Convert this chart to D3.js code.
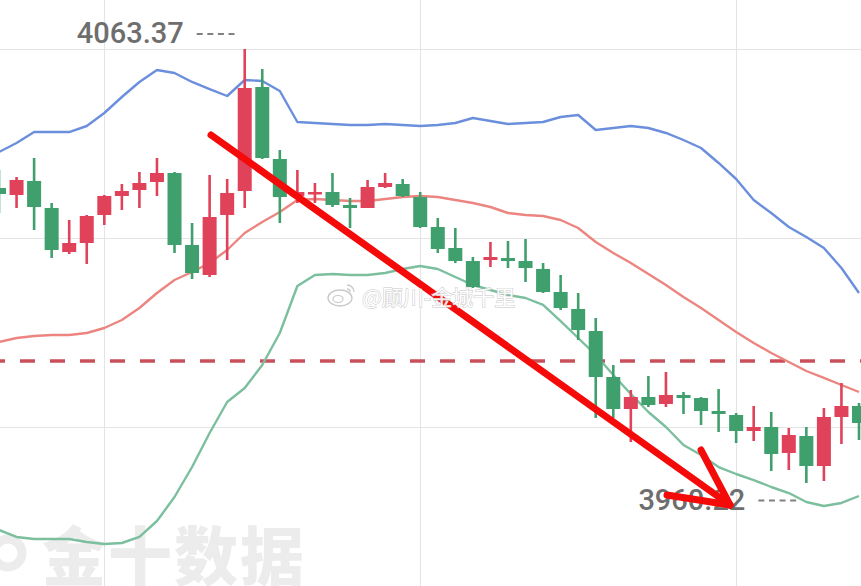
<!DOCTYPE html>
<html>
<head>
<meta charset="utf-8">
<script src="https://cdn.jsdelivr.net/npm/d3@7"></script>
<style>
  html, body { margin: 0; padding: 0; background: #fff; }
  svg { display: block; }
</style>
</head>
<body>
<svg id="chart" width="861" height="586"></svg>
<script>
// candles, oldest first (red = up, green = down)
const opens = [4030.33, 4028.67, 4032.00, 4025.58, 4015.12, 4017.26, 4023.92, 4028.43, 4029.86, 4031.76,
  4033.90, 4016.79, 4009.66, 4023.92, 4029.62, 4054.34, 4037.23, 4028.43, 4029.15, 4029.38,
  4026.29, 4025.58, 4030.57, 4031.28, 4028.19, 4021.06, 4016.07, 4012.98, 4013.22, 4013.70,
  4012.98, 4011.08, 4005.62, 4001.58, 3996.34, 3985.41, 3977.81, 3980.66, 3979.00, 3981.14,
  3980.42, 3977.33, 3976.38, 3972.58, 3973.53, 3967.35, 3971.39, 3964.26, 3975.91, 3978.52]
const highs = [4034.61, 4032.95, 4037.46, 4026.77, 4022.73, 4023.92, 4028.67, 4031.28, 4034.14, 4037.46,
  4034.14, 4022.02, 4033.42, 4032.47, 4063.37, 4058.62, 4039.37, 4034.61, 4031.52, 4033.90,
  4027.96, 4032.24, 4033.90, 4032.47, 4029.38, 4023.20, 4020.83, 4013.93, 4017.50, 4017.74,
  4018.21, 4012.51, 4009.66, 4005.38, 3999.44, 3988.27, 3982.32, 3985.65, 3986.60, 3981.85,
  3980.66, 3982.56, 3976.86, 3978.52, 3977.10, 3973.29, 3973.53, 3978.05, 3983.99, 3979.24]
const lows = [4024.39, 4025.58, 4020.35, 4013.70, 4014.65, 4012.27, 4021.54, 4025.11, 4025.58, 4028.43,
  4014.89, 4008.71, 4009.18, 4013.22, 4025.58, 4037.22, 4022.02, 4026.77, 4026.77, 4025.82,
  4020.83, 4025.58, 4030.33, 4028.19, 4020.83, 4014.89, 4012.51, 4006.57, 4011.56, 4011.32,
  4007.99, 4005.38, 4001.34, 3994.21, 3975.67, 3975.67, 3969.97, 3978.28, 3978.28, 3976.62,
  3974.01, 3972.34, 3969.73, 3970.20, 3963.07, 3963.31, 3960.22, 3960.70, 3969.49, 3970.44]
const closes = [4028.91, 4032.24, 4025.82, 4015.60, 4017.26, 4023.68, 4028.43, 4029.62, 4031.52, 4033.90,
  4016.79, 4010.13, 4023.44, 4029.15, 4054.10, 4037.46, 4028.19, 4029.38, 4029.38, 4026.29,
  4025.58, 4030.57, 4031.52, 4028.43, 4021.06, 4015.84, 4012.98, 4006.80, 4013.93, 4012.98,
  4011.32, 4005.62, 4001.81, 3996.58, 3985.41, 3977.81, 3980.66, 3978.76, 3981.14, 3980.42,
  3977.33, 3976.62, 3972.58, 3973.53, 3967.11, 3971.63, 3964.26, 3975.91, 3978.52, 3974.48]

// bollinger bands
const upperBand = [4038.89, 4041.03, 4043.64, 4043.64, 4043.64, 4045.07, 4048.16, 4051.96, 4055.53, 4058.38,
  4057.67, 4055.53, 4053.86, 4052.20, 4056.00, 4055.76, 4053.39, 4046.02, 4045.78, 4045.54,
  4045.31, 4045.31, 4045.54, 4045.31, 4045.07, 4045.31, 4045.78, 4046.97, 4046.26, 4045.54,
  4045.78, 4046.02, 4047.21, 4047.68, 4044.12, 4044.59, 4045.07, 4044.59, 4043.41, 4041.74,
  4039.84, 4036.28, 4032.47, 4027.48, 4024.39, 4021.06, 4018.69, 4016.07, 4011.32, 4005.38]
const midBand = [3993.73, 3994.68, 3995.16, 3995.40, 3995.40, 3995.87, 3997.06, 3998.96, 4001.81, 4005.38,
  4008.47, 4010.37, 4012.51, 4015.60, 4019.64, 4022.25, 4024.63, 4027.48, 4027.72, 4027.48,
  4027.24, 4027.24, 4027.72, 4028.19, 4028.43, 4028.19, 4027.48, 4026.77, 4025.82, 4024.39,
  4023.92, 4023.68, 4022.73, 4020.83, 4017.50, 4014.89, 4012.51, 4009.89, 4007.28, 4004.43,
  4001.81, 3998.96, 3996.11, 3993.50, 3991.12, 3988.98, 3986.84, 3985.18, 3983.51, 3981.85]
const lowerBand = [3949.05, 3947.39, 3946.91, 3946.91, 3946.91, 3946.20, 3945.72, 3945.96, 3947.39, 3951.19,
  3956.89, 3964.02, 3972.10, 3979.47, 3982.80, 3988.27, 3995.87, 4007.04, 4009.66, 4009.89,
  4009.66, 4009.66, 4010.13, 4011.08, 4011.80, 4011.08, 4009.18, 4007.28, 4006.09, 4004.90,
  4004.19, 4002.53, 3998.72, 3994.68, 3990.64, 3985.89, 3981.37, 3977.10, 3973.53, 3969.25,
  3966.88, 3964.02, 3962.36, 3960.93, 3959.27, 3957.84, 3955.71, 3954.75, 3955.47, 3957.13]

const gridPrices = [4063.37, 4018.45, 3973.53]
const gridIndex = [6, 24, 42]
const refPrice = 3989.22

// hand drawn arrow, in (index, price)
const arrowShaft = [[12.08, 4042.93], [41.65, 3954.99]]
const arrowWingA = [[40.0, 3968.06], [41.65, 3954.99]]
const arrowWingB = [[38.06, 3957.37], [41.65, 3954.99]]

const n = opens.length
const W = 861, H = 586

const x = d3.scaleLinear().domain([0, n - 1]).range([-1, 859])
const y = d3.scaleLinear().domain([3960.22, 4063.37]).range([483, 49])

const svg = d3.select('#chart')

const RED = '#e0425a', GREEN = '#3f9f6d'

// grid
svg.append('g').selectAll('line.h')
  .data(gridPrices)
  .enter()
  .append('line')
  .attr('x1', 0).attr('x2', W)
  .attr('y1', d => Math.round(y(d)) + 0.5).attr('y2', d => Math.round(y(d)) + 0.5)
  .attr('stroke', '#e4e4e4').attr('stroke-width', 1)

svg.append('g').selectAll('line.v')
  .data(gridIndex)
  .enter()
  .append('line')
  .attr('x1', d => Math.round(x(d)) + 0.5).attr('x2', d => Math.round(x(d)) + 0.5)
  .attr('y1', 0).attr('y2', H)
  .attr('stroke', '#e4e4e4').attr('stroke-width', 1)

// watermark 金十数据
const wm = svg.append('g').attr('fill', '#ececec')
wm.append('text')
  .attr('x', 42).attr('y', 580)
  .attr('font-family', 'Noto Sans CJK SC')
  .attr('font-weight', 900)
  .attr('font-size', 64)
  .attr('letter-spacing', 2)
  .text('金十数据')
wm.append('circle')
  .attr('cx', 8).attr('cy', 553).attr('r', 14)
  .attr('fill', 'none').attr('stroke', '#ececec').attr('stroke-width', 9)

// reference line
svg.append('line')
  .attr('x1', 0).attr('x2', W)
  .attr('y1', y(refPrice)).attr('y2', y(refPrice))
  .attr('stroke', '#c9505a').attr('stroke-width', 3.5)
  .attr('stroke-dasharray', '15,15')
  .attr('stroke-dashoffset', 10)

// bands
const line = d3.line().x((d, i) => x(i)).y(d => y(d))
const bands = [
  {vals: lowerBand, color: '#7bbf9e'},
  {vals: midBand, color: '#ec8580'},
  {vals: upperBand, color: '#6b8fdc'}
]
svg.append('g').selectAll('path')
  .data(bands)
  .enter()
  .append('path')
  .attr('d', d => line(d.vals))
  .attr('fill', 'none')
  .attr('stroke', d => d.color)
  .attr('stroke-width', 2.4)
  .attr('stroke-linejoin', 'round')

// candles
const candles = d3.range(n).map(i => ({i: i, o: opens[i], h: highs[i], l: lows[i], c: closes[i]}))
const bodyW = 14

const cg = svg.append('g').selectAll('g')
  .data(candles)
  .enter()
  .append('g')
  .attr('fill', d => d.c >= d.o ? RED : GREEN)
  .attr('stroke', d => d.c >= d.o ? RED : GREEN)

cg.append('line')
  .attr('x1', d => x(d.i)).attr('x2', d => x(d.i))
  .attr('y1', d => y(d.h)).attr('y2', d => y(d.l))
  .attr('stroke-width', 2.6)

cg.append('rect')
  .attr('x', d => x(d.i) - bodyW / 2)
  .attr('width', bodyW)
  .attr('y', d => y(Math.max(d.o, d.c)))
  .attr('height', d => Math.max(2.5, y(Math.min(d.o, d.c)) - y(Math.max(d.o, d.c))))
  .attr('stroke', 'none')

// max / min labels
const fmt = d3.format('.2f')
const hiIdx = d3.maxIndex(highs)
const loIdx = d3.minIndex(lows)
const extremes = [
  {i: hiIdx, v: highs[hiIdx], dy: -16},
  {i: loIdx, v: lows[loIdx], dy: 16.5}
]
const lab = svg.append('g').selectAll('g')
  .data(extremes)
  .enter()
  .append('g')
lab.append('text')
  .attr('x', d => x(d.i) - 61)
  .attr('y', d => y(d.v) + d.dy)
  .attr('dy', '0.35em')
  .attr('text-anchor', 'end')
  .attr('font-family', 'Roboto')
  .attr('font-weight', 500)
  .attr('font-size', 29)
  .attr('fill', '#6e6e6e')
  .text(d => fmt(d.v))
lab.append('line')
  .attr('x1', d => x(d.i) - 48).attr('x2', d => x(d.i) - 8)
  .attr('y1', d => y(d.v) + d.dy + 1).attr('y2', d => y(d.v) + d.dy + 1)
  .attr('stroke', '#808080').attr('stroke-width', 1.8)
  .attr('stroke-dasharray', '6,4.6')

// red arrow
const ag = svg.append('g')
  .attr('stroke', '#f50a0a')
  .attr('stroke-width', 7)
  .attr('stroke-linecap', 'round')
;[arrowShaft, arrowWingA, arrowWingB].forEach(function(seg){
  ag.append('line')
    .attr('x1', x(seg[0][0])).attr('y1', y(seg[0][1]))
    .attr('x2', x(seg[1][0])).attr('y2', y(seg[1][1]))
})

// weibo watermark
const wb = svg.append('g').attr('opacity', 0.9)
wb.append('ellipse')
  .attr('cx', 340).attr('cy', 298).attr('rx', 12).attr('ry', 8)
  .attr('fill', '#fff').attr('stroke', '#c4c4c4').attr('stroke-width', 1.3)
wb.append('ellipse')
  .attr('cx', 338).attr('cy', 299).attr('rx', 5).attr('ry', 3.5)
  .attr('fill', 'none').attr('stroke', '#c4c4c4').attr('stroke-width', 1.2)
wb.append('path')
  .attr('d', 'M347,285 a7,7 0 0 1 7,7 M347,289 a3,3 0 0 1 3,3')
  .attr('fill', 'none').attr('stroke', '#c4c4c4').attr('stroke-width', 1.3)
wb.append('text')
  .attr('x', 362).attr('y', 305)
  .attr('font-family', 'Noto Sans CJK SC')
  .attr('font-size', 21)
  .attr('fill', '#fff')
  .attr('stroke', '#c2c2c2')
  .attr('stroke-width', 1)
  .attr('paint-order', 'stroke')
  .text('@顾川-金城千里')
</script>
</body>
</html>
